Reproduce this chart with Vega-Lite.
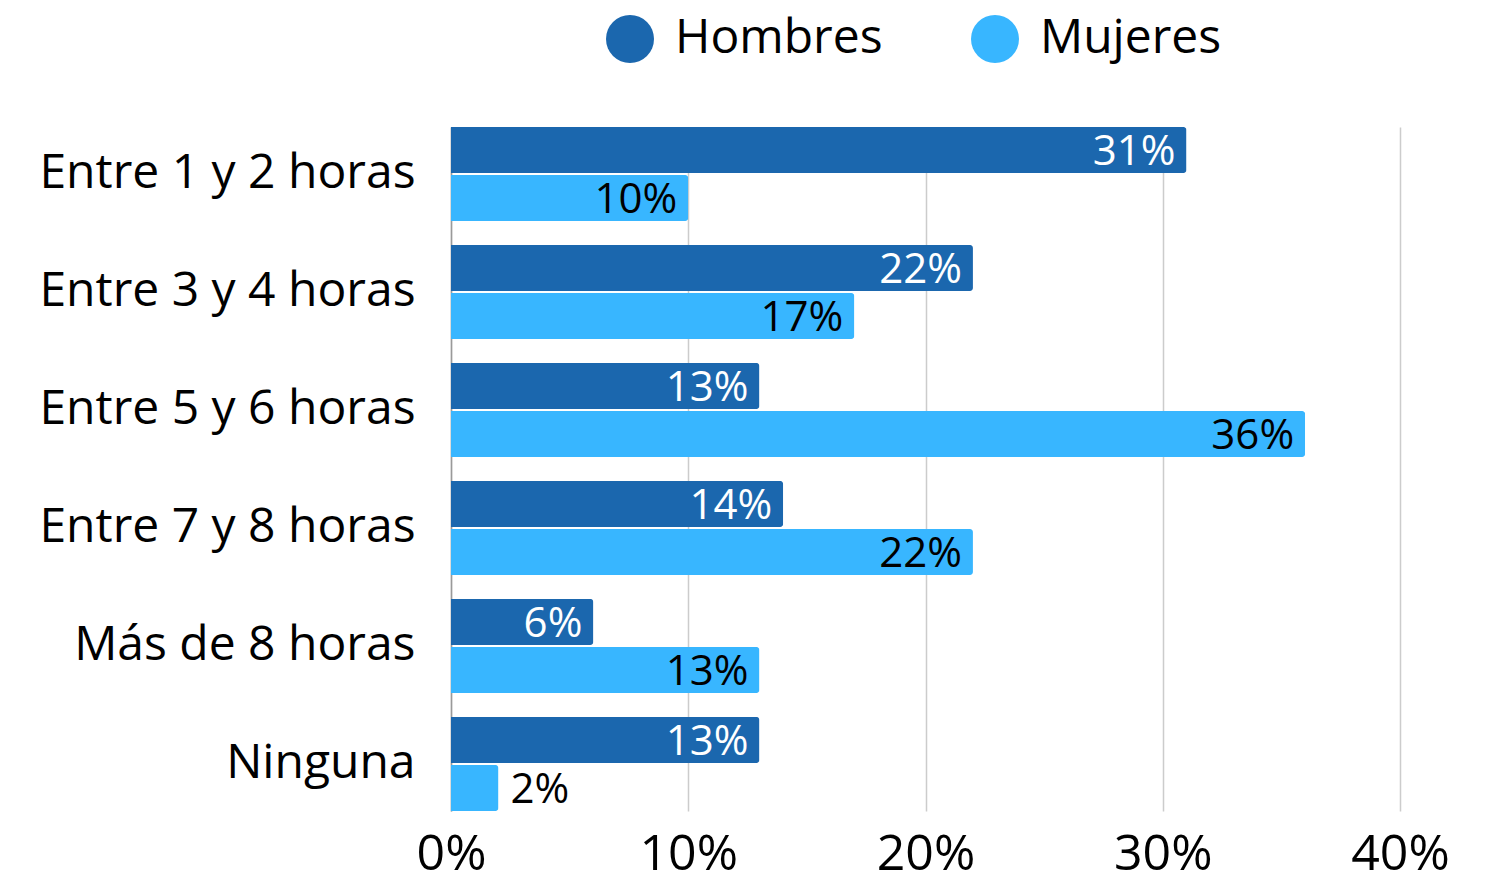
{
  "$schema": "https://vega.github.io/schema/vega-lite/v6.json",
  "width": 949,
  "height": 684,
  "autosize": {"type": "none"},
  "padding": {"left": 451, "top": 127, "right": 98, "bottom": 60},
  "background": "white",
  "config": {
    "font": "Open Sans",
    "view": {"stroke": null},
    "axis": {"labelColor": "black", "labelFont": "Open Sans"},
    "legend": {"labelFont": "Open Sans"}
  },
  "data": {
    "values": [
      {"cat": "Entre 1 y 2 horas", "sex": "Hombres", "value": 0.31},
      {"cat": "Entre 1 y 2 horas", "sex": "Mujeres", "value": 0.10},
      {"cat": "Entre 3 y 4 horas", "sex": "Hombres", "value": 0.22},
      {"cat": "Entre 3 y 4 horas", "sex": "Mujeres", "value": 0.17},
      {"cat": "Entre 5 y 6 horas", "sex": "Hombres", "value": 0.13},
      {"cat": "Entre 5 y 6 horas", "sex": "Mujeres", "value": 0.36},
      {"cat": "Entre 7 y 8 horas", "sex": "Hombres", "value": 0.14},
      {"cat": "Entre 7 y 8 horas", "sex": "Mujeres", "value": 0.22},
      {"cat": "Más de 8 horas", "sex": "Hombres", "value": 0.06},
      {"cat": "Más de 8 horas", "sex": "Mujeres", "value": 0.13},
      {"cat": "Ninguna", "sex": "Hombres", "value": 0.13},
      {"cat": "Ninguna", "sex": "Mujeres", "value": 0.02}
    ]
  },
  "encoding": {
    "y": {
      "field": "cat",
      "type": "nominal",
      "sort": null,
      "scale": {"paddingInner": 0.203, "paddingOuter": 0},
      "axis": {
        "title": null,
        "labelFontSize": 48,
        "labelPadding": 36,
        "labelLimit": 600,
        "ticks": false,
        "domain": true,
        "domainColor": "#9a9a9a",
        "domainWidth": 1.5
      }
    },
    "yOffset": {
      "field": "sex",
      "type": "nominal",
      "sort": ["Hombres", "Mujeres"],
      "scale": {"paddingInner": 0.042, "paddingOuter": 0}
    },
    "x": {
      "field": "value",
      "type": "quantitative",
      "scale": {"domain": [0, 0.4], "nice": false},
      "axis": {
        "title": null,
        "format": ".0%",
        "values": [0, 0.1, 0.2, 0.3, 0.4],
        "labelFontSize": 50,
        "labelPadding": 18,
        "labelFlush": false,
        "domain": false,
        "ticks": false,
        "grid": true,
        "gridColor": "#cccccc",
        "gridWidth": 1.5
      }
    }
  },
  "layer": [
    {
      "mark": {"type": "bar", "cornerRadiusEnd": 3},
      "encoding": {
        "color": {
          "field": "sex",
          "type": "nominal",
          "sort": ["Hombres", "Mujeres"],
          "scale": {"domain": ["Hombres", "Mujeres"], "range": ["#1b67ae", "#38b6ff"]},
          "legend": {
            "title": null,
            "orient": "none",
            "legendX": 155,
            "legendY": -112,
            "direction": "horizontal",
            "symbolType": "circle",
            "symbolSize": 2304,
            "symbolStrokeWidth": 0,
            "labelFontSize": 48,
            "labelOffset": 21,
            "columnPadding": 88,
            "labelColor": "black",
            "labelLimit": 400
          }
        }
      }
    },
    {
      "transform": [{"filter": "datum.value >= 0.05"}],
      "mark": {"type": "text", "align": "right", "baseline": "middle", "dx": -11, "dy": 2, "fontSize": 42},
      "encoding": {
        "text": {"field": "value", "type": "quantitative", "format": ".0%"},
        "color": {"condition": {"test": "datum.sex === 'Hombres'", "value": "white"}, "value": "black"}
      }
    },
    {
      "transform": [{"filter": "datum.value < 0.05"}],
      "mark": {"type": "text", "align": "left", "baseline": "middle", "dx": 12, "dy": 2, "fontSize": 42, "color": "black"},
      "encoding": {
        "text": {"field": "value", "type": "quantitative", "format": ".0%"}
      }
    }
  ]
}
